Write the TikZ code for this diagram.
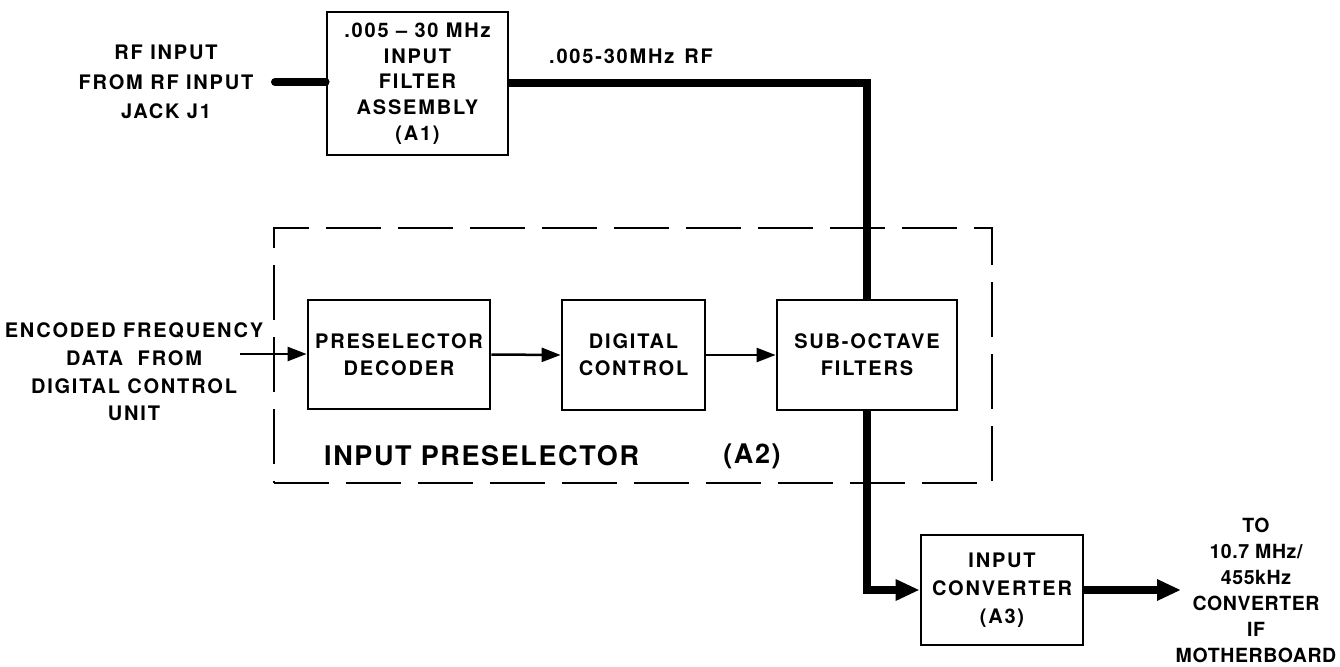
\documentclass[tikz,border=0pt]{standalone}
\usepackage{fontspec}
\setmainfont{TeX Gyre Heros}[LetterSpace=9]
\newfontfamily\rightfont{TeX Gyre Heros}[LetterSpace=3]
\newfontfamily\bigfont{TeX Gyre Heros}[LetterSpace=6]
\usetikzlibrary{arrows.meta}
\begin{document}
\begin{tikzpicture}[x=1pt,y=-1pt,
  lbl/.style={align=center,inner sep=0pt,font=\fontsize{20}{26}\selectfont\bfseries},
  blk/.style={draw,line width=2.8pt,inner sep=0pt,align=center,
    font=\fontsize{20}{27}\selectfont\bfseries},
  thickline/.style={line width=8pt},
  thinarrow/.style={line width=2.5pt,-{Triangle[length=19pt,width=14pt]}},
  thickarrow/.style={line width=8pt,-{Triangle[length=24pt,width=20pt]}},
  groupbox/.style={draw,line width=2.6pt,dash pattern=on 55pt off 17pt,inner sep=0pt}
]
\useasboundingbox (0,0) rectangle (1340,666);
\fill[white] (0,0) rectangle (1340,666);

% group box
\node[groupbox,minimum width=718pt,minimum height=255pt] (a2) at (633,355.5) {};

% blocks
\node[blk,minimum width=181pt,minimum height=143pt,font=\fontsize{20}{25.7}\selectfont\bfseries] (a1) at (417.5,83.5)
  {.005 -- 30 MHz\\INPUT\\FILTER\\ASSEMBLY\\(A1)};
\node[blk,minimum width=182pt,minimum height=109pt] (pd) at (399,354.5) {PRESELECTOR\\DECODER};
\node[blk,minimum width=143pt,minimum height=110pt] (dc) at (633.5,355) {DIGITAL\\CONTROL};
\node[blk,minimum width=180pt,minimum height=110pt] (sof) at (867,355) {SUB-OCTAVE\\FILTERS};
\node[blk,minimum width=162pt,minimum height=110pt,font=\fontsize{20}{28}\selectfont\bfseries] (ic) at (1002,590) {INPUT\\CONVERTER\\(A3)};

% labels
\node[lbl,font=\fontsize{20}{29.5}\selectfont\bfseries] (rfin) at (166,82) {RF INPUT\\FROM RF INPUT\\JACK J1};
\node[lbl,font=\fontsize{20}{27.7}\selectfont\bfseries] (enc) at (134,372) {ENCODED FREQUENCY\\DATA\ \ FROM\\DIGITAL CONTROL\\UNIT};
\node[lbl,anchor=west] (rflbl) at (549,56) {.005-30MHz\enspace RF};
\node[lbl,font=\rightfont\fontsize{19.5}{26}\selectfont\bfseries] (out) at (1256,590) {TO\\10.7 MHz/\\455kHz\\CONVERTER\\IF\\MOTHERBOARD};
\node[lbl,anchor=west,font=\bigfont\fontsize{27}{30}\selectfont\bfseries] (prelbl) at (324,456) {INPUT PRESELECTOR};
\node[lbl,font=\bigfont\fontsize{27}{30}\selectfont\bfseries] (a2lbl) at (752,456) {(A2)};

% coordinates
\coordinate (rfstart) at (275,82);
\coordinate (encstart) at (240,354);
\coordinate (outend) at (1181,590);

% connectors
\draw[thickline,line cap=round] (rfstart) -- (rfstart -| a1.west);
\draw[thickline] (a1.east) -| (sof.north);
\draw[thickarrow] (sof.south) |- (ic.west);
\draw[thickarrow] (ic.east) -- (outend);
\draw[thinarrow] (encstart) -- (encstart -| pd.west);
\draw[thinarrow] (pd.east) -- (dc.west);
\draw[thinarrow] (dc.east) -- (sof.west);
\end{tikzpicture}
\end{document}
